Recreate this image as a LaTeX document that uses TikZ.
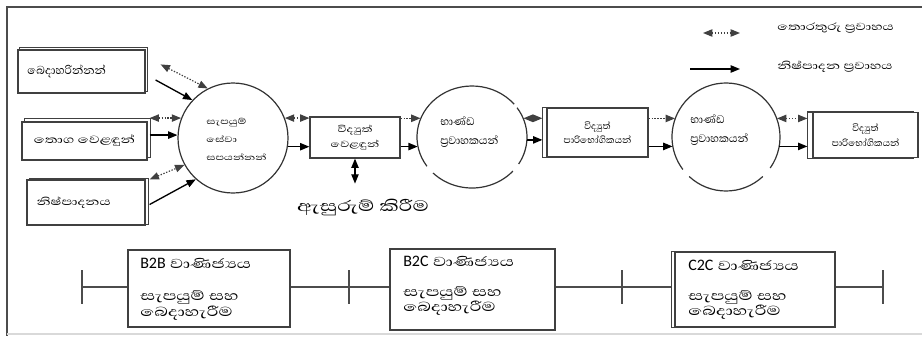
\documentclass[tikz,border=0pt]{standalone}
\usepackage{fontspec}
\setmainfont[Script=Sinhala]{Abhaya Libre}
\newfontfamily\wsin[Script=Sinhala,FakeStretch=1.4]{Abhaya Libre}
\newfontfamily\latinf{Carlito}
\usetikzlibrary{arrows.meta,calc,backgrounds,shapes.geometric}
\tikzset{
  >={Triangle[length=7pt,width=5.5pt]},
  frameline/.style={draw=black!70,line width=1.2pt},
  bx/.style={draw=black!75,line width=0.9pt,fill=white,inner sep=0pt,align=center},
  shadline/.style={draw=black!75,line width=0.9pt,fill=white},
  infoflow/.style={draw=black!75,line width=0.9pt,dash pattern=on 1pt off 1.2pt,<->},
  infoone/.style={draw=black!75,line width=0.9pt,dash pattern=on 1pt off 1.2pt,->},
  prodflow/.style={draw=black,line width=1pt,->},
  ringline/.style={draw=black!80,line width=0.9pt},
  txt/.style={inner sep=0pt,align=left},
  circfont/.style={font=\wsin\fontsize{7.8}{13.5}\selectfont},
  legfont/.style={font=\wsin\fontsize{9.8}{12}\selectfont},
  botfont/.style={font=\wsin\fontsize{12.5}{11.5}\selectfont},
  tline/.style={draw=black!70,line width=0.9pt}
}
\begin{document}
\begin{tikzpicture}[x=0.75pt,y=-0.75pt]
\useasboundingbox (0,0) rectangle (922,336);
% frame
\draw[frameline] (922,7) -- (7,7) -- (7,336);
\draw[draw=black!15,line width=0.8pt] (7,334) -- (922,334);

% left boxes
\node[bx,minimum width=95.25pt,minimum height=32.25pt,text width=81pt,align=left,font=\fontsize{11}{13}\selectfont] (b1) at (81.5,71.5) {බෙදාහරින්නන්};
\node[bx,minimum width=93.75pt,minimum height=28.5pt,font=\wsin\fontsize{10}{14}\selectfont] (b2) at (84.5,141) {තොග වෙළඳුන්};
\node[bx,minimum width=88.5pt,minimum height=33.75pt,text width=74pt,align=left,font=\wsin\fontsize{9.8}{14}\selectfont] (b3) at (86,202.5) {නිෂ්පාදනය};

% circle 1
\node[circle,draw=black!80,line width=0.9pt,minimum size=82.5pt] (c1) at (233,138) {};
\node[txt,anchor=west,circfont] (c1t) at (206,139) {සැපයුම්\\සේවා\\සපයන්නන්};

% e-retailers box
\node[bx,minimum width=67.5pt,minimum height=30.75pt,font=\wsin\fontsize{8.5}{11}\selectfont] (r) at (355,137.5) {විද්‍යුත්\\වෙළඳුන්};
\node[txt,font=\wsin\fontsize{14.5}{16}\selectfont] (pk) at (363,207) {ඇසුරුම් කිරීම};
\coordinate (pkend) at ($(r.south)+(0,25)$);
\draw[prodflow,<->] (r.south) -- (pkend);

% circle 2 (broken)
\node[ellipse,minimum width=82.5pt,minimum height=76.5pt] (c2) at (472,137) {};
\foreach \a/\b in {40/215,225/318,328/395}
  \draw[ringline] ([shift={(\a:41.25pt and 38.25pt)}]c2.center) arc[start angle=\a,end angle=\b,x radius=41.25pt,y radius=38.25pt];
\node[txt,anchor=west,font=\fontsize{10.5}{14}\selectfont] (c2t) at (440,132) {භාණ්ඩ\\ප්‍රවාහකයන්};

% middle consumers box
\node[bx,minimum width=75.75pt,minimum height=36.75pt,font=\fontsize{9}{11}\selectfont] (m) at (597.5,132.5) {විද්‍යුත්\\පාරිභෝගිකයන්};

% circle 3 (broken)
\node[circle,minimum size=81pt] (c3) at (726,137) {};
\foreach \a/\b in {-35/217,227/313}
  \draw[ringline] ([shift={(\a:40.5pt)}]c3.center) arc[start angle=\a,end angle=\b,radius=40.5pt];
\node[txt,anchor=west,font=\fontsize{10.5}{14}\selectfont] (c3t) at (690,130) {භාණ්ඩ\\ප්‍රවාහකයන්};

% right consumers box
\node[bx,minimum width=78.75pt,minimum height=33.75pt,font=\fontsize{9}{11}\selectfont] (rt) at (865.5,135) {විද්‍යුත්\\පාරිභෝගිකයන්};

% bottom boxes
\node[bx,minimum width=121.5pt,minimum height=57.75pt] (e1) at (209,288.5) {};
\node[bx,minimum width=123.75pt,minimum height=60.75pt] (e2) at (472.5,289.5) {};
\node[bx,minimum width=120pt,minimum height=56.25pt] (e3) at (755,289.5) {};

% shadows / double edges behind boxes
\begin{scope}[on background layer]
  \draw[shadline] ($(b1.south west)+(2,-2)$) rectangle ($(b1.north east)+(2,-2)$);
  \draw[shadline] ($(b2.south west)+(3,-3)$) rectangle ($(b2.north east)+(3,-3)$);
  \draw[shadline] ($(b3.south west)+(3,-1)$) rectangle ($(b3.north east)+(3,-1)$);
  \draw[shadline] ($(m.south west)+(-4,0)$) rectangle ($(m.north east)+(-4,0)$);
  \draw[shadline] ($(rt.south west)+(-5,0)$) rectangle ($(rt.north east)+(-5,0)$);
  \draw[shadline] ($(e3.south west)+(-3,0)$) rectangle ($(e3.north east)+(-3,0)$);
\end{scope}

% flows into circle 1
\draw[infoflow] ($(b1.north east)+(15,15)$) -- (c1.117);
\draw[prodflow] ($(b1.east)+(10,8.5)$) -- (c1.137);
\draw[infoflow] ($(b2.east |- c1.159)+(2,0)$) -- (c1.159);
\draw[prodflow] ($(b2.east |- c1.177)+(2,0)$) -- (c1.177);
\draw[infoflow] ($(b3.north east)+(4,0)$) -- (c1.209);
\draw[prodflow] ($(b3.east)+(4,2)$) -- (c1.228);

% circle1 -> retailers
\draw[infoflow] (c1.21) -- (r.west |- c1.21);
\draw[prodflow] (c1.351) -- (r.west |- c1.351);
% retailers -> circle2
\draw[infoone] (r.east |- c2.160) -- (c2.160);
\draw[prodflow] (r.east |- c2.190) -- (c2.190);
% circle2 -> consumers
\draw[infoflow] (c2.20) -- ($(m.west |- c2.20)+(-4,0)$);
\draw[prodflow] (c2.357) -- ($(m.west |- c2.357)+(-4,0)$);
% consumers -> circle3
\draw[infoone] (m.east |- c3.160) -- (c3.160);
\draw[prodflow] (m.east |- c3.190) -- (c3.190);
% circle3 -> right consumers
\draw[infoflow] (c3.20) -- ($(rt.west |- c3.20)+(-5,0)$);
\draw[prodflow] (c3.350) -- ($(rt.west |- c3.350)+(-5,0)$);

% legend
\coordinate (l1a) at (703,33);
\coordinate (l1b) at (740,33);
\coordinate (l2a) at (690,69);
\coordinate (l2b) at (740,69);
\draw[infoflow] (l1a) -- (l1b);
\draw[prodflow] (l2a) -- (l2b);
\node[txt,anchor=west,legfont] (lt1) at (777,28) {තොරතුරු ප්‍රවාහය};
\node[txt,anchor=west,legfont] (lt2) at (777,67) {නිෂ්පාදන ප්‍රවාහය};

% bottom texts
\node[txt,anchor=west,botfont] (e1a) at (140,263) {{\latinf\fontsize{12}{14}\selectfont B2B} වාණිජ්‍යය};
\node[txt,anchor=west,botfont] (e1b) at (140,305.5) {සැපයුම් සහ\\බෙදාහැරීම};
\node[txt,anchor=west,botfont] (e2a) at (403,261) {{\latinf\fontsize{12}{14}\selectfont B2C} වාණිජ්‍යය};
\node[txt,anchor=west,botfont] (e2b) at (403,301) {සැපයුම් සහ\\බෙදාහැරීම};
\node[txt,anchor=west,botfont] (e3a) at (688,265) {{\latinf\fontsize{12}{14}\selectfont C2C} වාණිජ්‍යය};
\node[txt,anchor=west,botfont] (e3b) at (688,305) {සැපයුම් සහ\\බෙදාහැරීම};

% timeline
\coordinate (t0) at (82,287);
\coordinate (t1) at (349,287);
\coordinate (t2) at (622,287);
\coordinate (t3) at (883,287);
\draw[tline] (t0) -- (e1.west |- t0);
\draw[tline] (e1.east |- t1) -- (e2.west |- t1);
\draw[tline] (e2.east |- t2) -- ($(e3.west |- t2)+(-3,0)$);
\draw[tline] (e3.east |- t3) -- (t3);
\foreach \t in {t0,t1,t2,t3}
  \draw[tline] ($(\t)+(0,-17)$) -- ($(\t)+(0,17)$);
\end{tikzpicture}
\end{document}
